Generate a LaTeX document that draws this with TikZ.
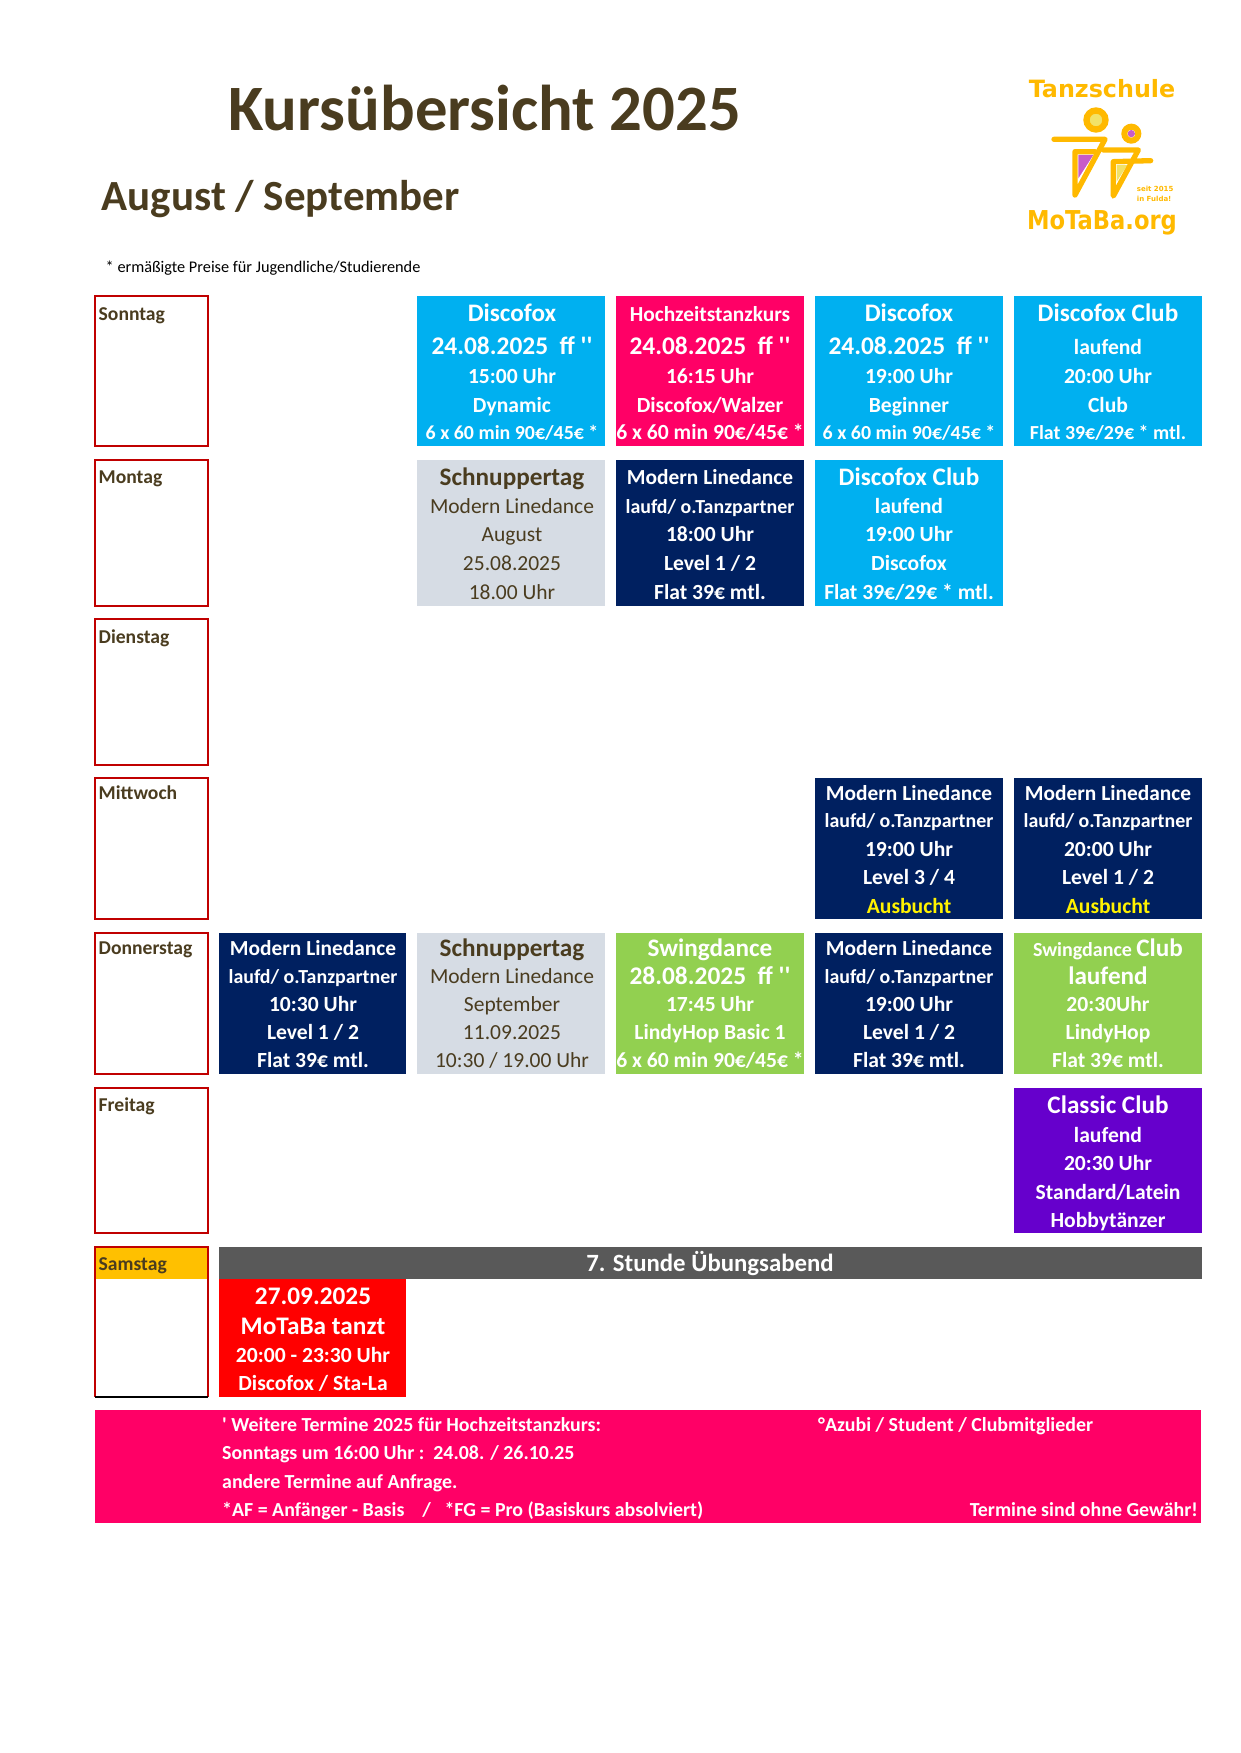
\documentclass[tikz,border=0pt]{standalone}
\usepackage{fontspec}
\setmainfont{Carlito}
\newfontfamily\logofont{DejaVu Sans}
\newfontfamily\plainf{Carlito}
\definecolor{brn}{HTML}{4A3C1F}
\definecolor{cyn}{HTML}{00B0F0}
\definecolor{pnk}{HTML}{FF0066}
\definecolor{nvy}{HTML}{002060}
\definecolor{gry}{HTML}{D6DCE4}
\definecolor{grn}{HTML}{92D050}
\definecolor{prp}{HTML}{6600CC}
\definecolor{drk}{HTML}{595959}
\definecolor{org}{HTML}{FFC000}
\definecolor{dred}{HTML}{C00000}
\definecolor{logo}{HTML}{FFB900}
\definecolor{logoY}{HTML}{F2E268}
\definecolor{logoP}{HTML}{C85CC8}
\newcounter{tn}
\newcommand\QQ{{\plainf\bfseries '{}'}}
\newcommand\Q{{\plainf\bfseries '}}
\tikzset{lbl/.style={anchor=base,inner sep=0pt,font=\bfseries},
 lft/.style={anchor=base west,inner sep=0pt,font=\bfseries},
 thin lbl/.style={anchor=base,inner sep=0pt},
 logotxt/.style={inner sep=0pt,text=logo,font=\logofont\bfseries},
 figline/.style={logo,line width=5.3pt,line cap=round,line join=round}}
\newcommand\Tx[5][white]{\stepcounter{tn}\node[lbl,text=#1] (t\arabic{tn}) at (#2,#3) {\fontsize{#4}{#4}\selectfont #5};}
\newcommand\Tn[4]{\stepcounter{tn}\node[thin lbl,text=brn] (t\arabic{tn}) at (#1,#2) {\fontsize{#3}{#3}\selectfont #4};}
\newcommand\Tl[5][white]{\stepcounter{tn}\node[lft,text=#1] (t\arabic{tn}) at (#2,#3) {\fontsize{#4}{#4}\selectfont #5};}
\newcommand\Bx[5]{\fill[#5] (#1,#2) rectangle (#3,#4);}
\newcommand\Day[4]{\draw[dred,line width=1.6pt] (95,#2) rectangle (208,#3);\Tl[brn]{98.5}{#4}{19.6}{#1}}
\begin{document}
\begin{tikzpicture}[x=1pt,y=-1pt]
\useasboundingbox (0,0) rectangle (1240,1753);
% titles
\Tx[brn]{484.5}{130}{64.7}{Kursübersicht 2025}
\Tl[brn]{101.5}{210}{43}{August / September}
\stepcounter{tn}\node[anchor=base west,inner sep=0pt,text=black] (t\arabic{tn}) at (105.5,272) {\fontsize{16.3}{16.3}\selectfont * ermäßigte Preise für Jugendliche/Studierende};
% logo
\begin{scope}[shift={(980,60)},x=0.3333pt,y=-0.3333pt]
 \node[logotxt,anchor=base] (logoA) at (366,113) {\fontsize{23.8}{23.8}\selectfont Tanzschule};
 \node[logotxt,anchor=base,xscale=0.87,transform shape] (logoB) at (366,510) {\fontsize{26}{26}\selectfont MoTaBa.org};
 \node[logotxt,anchor=base west] (logoC) at (470,395) {\fontsize{7}{7}\selectfont seit 2015};
 \node[logotxt,anchor=base west] (logoD) at (470,425) {\fontsize{7}{7}\selectfont in Fulda!};
 \fill[logoY] (348,180) circle (20);
 \draw[logo,line width=6.3pt] (348,180) circle (28.5);
 \fill[logoP] (454,221) circle (11);
 \draw[logo,line width=6pt] (454,221) circle (21);
 \fill[logoP] (295,285) -- (340,285) -- (295,355) -- cycle;
 \fill[logoY] (410,315) -- (442,315) -- (410,365) -- cycle;
 \draw[figline] (222,238) -- (375,238) -- (285,405) -- (285,275) -- (345,275);
 \draw[figline] (370,270) -- (475,270) -- (400,408) -- (400,305) -- (512,302);
\end{scope}
% day boxes
\Day{Sonntag}{296}{446}{320}
\Day{Montag}{460}{606}{483}
\Day{Dienstag}{619}{765}{643}
\Day{Mittwoch}{778}{919}{799}
\Day{Donnerstag}{933}{1074}{954}
\Day{Freitag}{1088}{1233}{1111}
\fill[org] (95,1247) rectangle (208,1279);
\draw[dred,line width=1.6pt] (208,1397) -- (208,1247) -- (95,1247) -- (95,1397);
\draw[black,line width=1.6pt] (95,1397) -- (208,1397);
\Tl[brn]{98.5}{1270}{19.6}{Samstag}
% Sonntag
\Bx{417}{296}{605}{446}{cyn}
\Tx{512}{321}{25.2}{Discofox}
\Tx{512}{354}{25.4}{24.08.2025\ \ ff \QQ}
\Tx{512}{383}{21.6}{15:00 Uhr}
\Tx{512}{412}{21.6}{Dynamic}
\Tx{512}{439}{19.9}{6 x 60 min 90€/45€ *}
\Bx{616}{296}{804}{446}{pnk}
\Tx{710}{321}{21.4}{Hochzeitstanzkurs}
\Tx{710}{354}{25.4}{24.08.2025\ \ ff \QQ}
\Tx{710}{383}{21.6}{16:15 Uhr}
\Tx{710}{412}{21.6}{Discofox/Walzer}
\Tx{710}{439}{21.6}{6 x 60 min 90€/45€ *}
\Bx{815}{296}{1003}{446}{cyn}
\Tx{909}{321}{25.2}{Discofox}
\Tx{909}{354}{25.4}{24.08.2025\ \ ff \QQ}
\Tx{909}{383}{21.6}{19:00 Uhr}
\Tx{909}{412}{21.6}{Beginner}
\Tx{909}{439}{19.9}{6 x 60 min 90€/45€ *}
\Bx{1014}{296}{1202}{446}{cyn}
\Tx{1108}{321}{25.2}{Discofox Club}
\Tx{1108}{354}{21.6}{laufend}
\Tx{1108}{383}{21.6}{20:00 Uhr}
\Tx{1108}{412}{21.6}{Club}
\Tx{1108}{439}{19.9}{Flat 39€/29€ * mtl.}
% Montag
\Bx{417}{460}{605}{606}{gry}
\Tx[brn]{512}{485}{25.2}{Schnuppertag}
\Tn{512}{513}{21.5}{Modern Linedance}
\Tn{512}{541}{21.5}{August}
\Tn{512}{570}{21.5}{25.08.2025}
\Tn{512}{599}{21.5}{18.00 Uhr}
\Bx{616}{460}{804}{606}{nvy}
\Tx{710}{484}{21.4}{Modern Linedance}
\Tx{710}{513}{19.9}{laufd/ o.Tanzpartner}
\Tx{710}{541}{21.6}{18:00 Uhr}
\Tx{710}{570}{21.6}{Level 1 / 2}
\Tx{710}{599}{21.6}{Flat 39€ mtl.}
\Bx{815}{460}{1003}{606}{cyn}
\Tx{909}{485}{25.2}{Discofox Club}
\Tx{909}{513}{21.6}{laufend}
\Tx{909}{541}{21.6}{19:00 Uhr}
\Tx{909}{570}{21.6}{Discofox}
\Tx{909}{599}{21.6}{Flat 39€/29€ * mtl.}
% Mittwoch
\Bx{815}{778}{1003}{919}{nvy}
\Tx{909}{800}{21.4}{Modern Linedance}
\Tx{909}{827}{19.9}{laufd/ o.Tanzpartner}
\Tx{909}{856}{21.6}{19:00 Uhr}
\Tx{909}{884}{21.6}{Level 3 / 4}
\Tx[yellow]{909}{913}{21.6}{Ausbucht}
\Bx{1014}{778}{1202}{919}{nvy}
\Tx{1108}{800}{21.4}{Modern Linedance}
\Tx{1108}{827}{19.9}{laufd/ o.Tanzpartner}
\Tx{1108}{856}{21.6}{20:00 Uhr}
\Tx{1108}{884}{21.6}{Level 1 / 2}
\Tx[yellow]{1108}{913}{21.6}{Ausbucht}
% Donnerstag
\Bx{219}{933}{406}{1074}{nvy}
\Tx{313}{955}{21.4}{Modern Linedance}
\Tx{313}{983}{19.9}{laufd/ o.Tanzpartner}
\Tx{313}{1011}{21.6}{10:30 Uhr}
\Tx{313}{1039}{21.6}{Level 1 / 2}
\Tx{313}{1067}{21.6}{Flat 39€ mtl.}
\Bx{417}{933}{605}{1074}{gry}
\Tx[brn]{512}{956}{25.2}{Schnuppertag}
\Tn{512}{983}{21.5}{Modern Linedance}
\Tn{512}{1011}{21.5}{September}
\Tn{512}{1039}{21.5}{11.09.2025}
\Tn{512}{1067}{21.5}{10:30 / 19.00 Uhr}
\Bx{616}{933}{804}{1074}{grn}
\Tx{710}{956}{25.2}{Swingdance}
\Tx{710}{984}{25.4}{28.08.2025\ \ ff \QQ}
\Tx{710}{1011}{21.6}{17:45 Uhr}
\Tx{710}{1039}{21.6}{LindyHop Basic 1}
\Tx{710}{1067}{21.6}{6 x 60 min 90€/45€ *}
\Bx{815}{933}{1003}{1074}{nvy}
\Tx{909}{955}{21.4}{Modern Linedance}
\Tx{909}{983}{19.9}{laufd/ o.Tanzpartner}
\Tx{909}{1011}{21.6}{19:00 Uhr}
\Tx{909}{1039}{21.6}{Level 1 / 2}
\Tx{909}{1067}{21.6}{Flat 39€ mtl.}
\Bx{1014}{933}{1202}{1074}{grn}
\Tx{1108}{956}{25.2}{\fontsize{20}{20}\selectfont Swingdance \fontsize{25.2}{25.2}\selectfont Club}
\Tx{1108}{984}{25.2}{laufend}
\Tx{1108}{1011}{21.6}{20:30Uhr}
\Tx{1108}{1039}{21.6}{LindyHop}
\Tx{1108}{1067}{21.6}{Flat 39€ mtl.}
% Freitag
\Bx{1014}{1088}{1202}{1233}{prp}
\Tx{1108}{1113}{25.2}{Classic Club}
\Tx{1108}{1142}{21.6}{laufend}
\Tx{1108}{1170}{21.6}{20:30 Uhr}
\Tx{1108}{1199}{21.6}{Standard/Latein}
\Tx{1108}{1227}{21.6}{Hobbytänzer}
% Samstag
\Bx{219}{1247}{1202}{1279}{drk}
\Tx{710}{1271}{24.8}{7. Stunde Übungsabend}
\Bx{219}{1279}{406}{1397}{red}
\Tx{313}{1304}{25.3}{27.09.2025}
\Tx{313}{1334}{25.3}{MoTaBa tanzt}
\Tx{313}{1362}{21.6}{20:00 - 23:30 Uhr}
\Tx{313}{1390}{21.6}{Discofox / Sta-La}
% footer
\Bx{95}{1410}{1201}{1523}{pnk}
\Tl{222}{1431}{19.9}{\Q{} Weitere Termine 2025 für Hochzeitstanzkurs:}
\Tl{222}{1459}{19.9}{Sonntags um 16:00 Uhr :\ \ 24.08. / 26.10.25}
\Tl{222}{1488}{19.9}{andere Termine auf Anfrage.}
\Tl{222}{1516}{19.9}{*AF = Anfänger - Basis\ \ \ \ /\ \ \ *FG = Pro (Basiskurs absolviert)}
\Tl{818}{1431}{19.9}{°Azubi / Student / Clubmitglieder}
\stepcounter{tn}\node[anchor=base east,inner sep=0pt,font=\bfseries,text=white] (t\arabic{tn}) at (1198,1516) {\fontsize{19.9}{19.9}\selectfont Termine sind ohne Gewähr!};
\end{tikzpicture}
\end{document}
